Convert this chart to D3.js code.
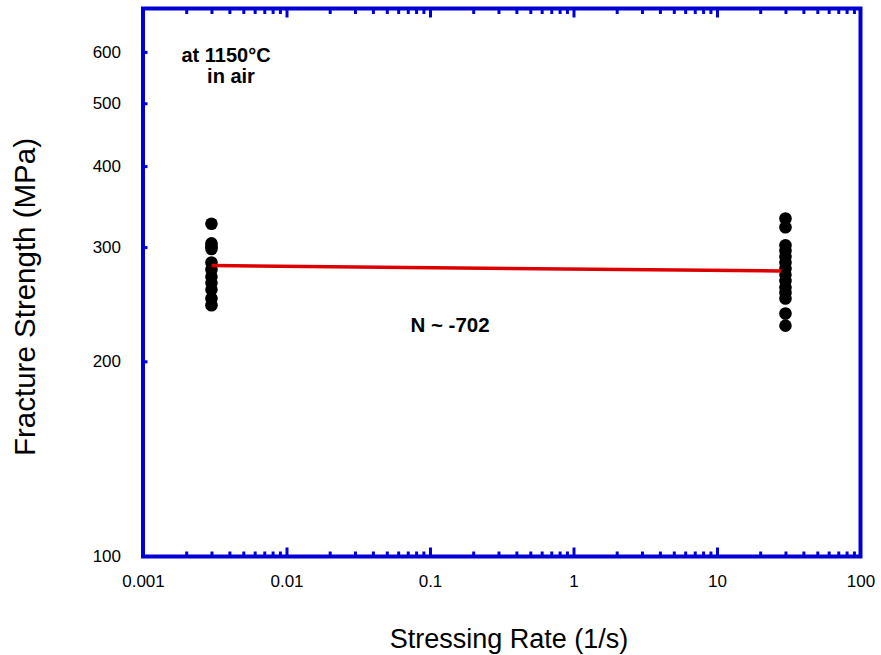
<!DOCTYPE html>
<html>
<head>
<meta charset="utf-8">
<script src="https://cdn.jsdelivr.net/npm/d3@7"></script>
<style>
  body { margin: 0; background: #fff; }
  text { font-family: "Liberation Sans", Arial, sans-serif; fill: #000; }
</style>
</head>
<body>
<div id="chart"></div>
<script>
// data
const xTickValues = [0.001, 0.01, 0.1, 1, 10, 100];
const yTickValues = [100, 200, 300, 400, 500, 600];
const slowRate = 0.003;
const slowStrength = [326, 304, 301, 298, 284, 277, 270, 264, 258, 250, 244];
const fastRate = 30;
const fastStrength = [332, 322, 302, 296, 290, 284, 278, 272, 266, 260, 255, 250, 237, 227];
const fitRate = [0.003, 28];
const fitStrength = [281, 275.6];

const w = 881;
const h = 655;
const blue = '#0000d6';

const xScale = d3.scaleLog()
  .domain([0.001, 100])
  .range([143, 860.5]);

const yScale = d3.scaleLog()
  .domain([100, 700])
  .range([556.5, 8.5]);

const svg = d3.select('#chart')
  .append('svg')
  .attr('width', w)
  .attr('height', h);

// minor ticks 2..9 in every decade
const minorTicks = [];
for (let d = 0.001; d < 100; d *= 10) {
  for (let k = 2; k <= 9; k++) minorTicks.push(+(d * k).toPrecision(3));
}
const majorTicks = xTickValues.slice(1, -1);

function styleTicks(g) {
  g.select('.domain').remove();
  g.selectAll('.tick line')
    .attr('stroke', blue)
    .attr('stroke-width', 3);
}

// bottom ticks, pointing inside
svg.append('g')
  .attr('transform', 'translate(0,' + yScale(100) + ')')
  .call(d3.axisTop(xScale).tickValues(minorTicks).tickSize(5).tickFormat(''))
  .call(styleTicks);
svg.append('g')
  .attr('transform', 'translate(0,' + yScale(100) + ')')
  .call(d3.axisTop(xScale).tickValues(majorTicks).tickSize(9).tickFormat(''))
  .call(styleTicks);

// top ticks, pointing inside
svg.append('g')
  .attr('transform', 'translate(0,' + yScale(700) + ')')
  .call(d3.axisBottom(xScale).tickValues(minorTicks).tickSize(5.5).tickFormat(''))
  .call(styleTicks);
svg.append('g')
  .attr('transform', 'translate(0,' + yScale(700) + ')')
  .call(d3.axisBottom(xScale).tickValues(majorTicks).tickSize(9).tickFormat(''))
  .call(styleTicks);

// left ticks
svg.append('g')
  .attr('transform', 'translate(' + xScale(0.001) + ',0)')
  .call(d3.axisRight(yScale).tickValues(yTickValues.slice(1)).tickSize(4.5).tickFormat(''))
  .call(styleTicks);

// x labels
const xLabels = svg.append('g')
  .attr('transform', 'translate(0,' + yScale(100) + ')')
  .call(d3.axisBottom(xScale).tickValues(xTickValues).tickSize(0).tickPadding(0)
    .tickFormat(function(d) { return String(d); }));
xLabels.select('.domain').remove();
xLabels.selectAll('text')
  .attr('y', 30)
  .attr('dy', 0)
  .attr('font-size', '17px')
  .attr('font-family', '"Liberation Sans", Arial, sans-serif');

// y labels
const yLabels = svg.append('g')
  .attr('transform', 'translate(' + xScale(0.001) + ',0)')
  .call(d3.axisLeft(yScale).tickValues(yTickValues).tickSize(0).tickPadding(22)
    .tickFormat(function(d) { return String(d); }));
yLabels.select('.domain').remove();
yLabels.selectAll('text')
  .attr('font-size', '17px')
  .attr('font-family', '"Liberation Sans", Arial, sans-serif');

// frame
svg.append('rect')
  .attr('x', xScale(0.001))
  .attr('y', yScale(700))
  .attr('width', xScale(100) - xScale(0.001))
  .attr('height', yScale(100) - yScale(700))
  .attr('fill', 'none')
  .attr('stroke', blue)
  .attr('stroke-width', 4);

// data points
svg.selectAll('circle.slow')
  .data(slowStrength)
  .enter()
  .append('circle')
  .attr('class', 'slow')
  .attr('cx', xScale(slowRate))
  .attr('cy', function(d) { return yScale(d); })
  .attr('r', 6.3)
  .attr('fill', '#000');

svg.selectAll('circle.fast')
  .data(fastStrength)
  .enter()
  .append('circle')
  .attr('class', 'fast')
  .attr('cx', xScale(fastRate))
  .attr('cy', function(d) { return yScale(d); })
  .attr('r', 6.3)
  .attr('fill', '#000');

// fit line
const line = d3.line()
  .x(function(d) { return xScale(d[0]); })
  .y(function(d) { return yScale(d[1]); });

svg.append('path')
  .datum(d3.zip(fitRate, fitStrength))
  .attr('d', line)
  .attr('fill', 'none')
  .attr('stroke', '#dd0000')
  .attr('stroke-width', 3.5);

// annotations
svg.append('text')
  .attr('x', 226)
  .attr('y', 62)
  .attr('text-anchor', 'middle')
  .attr('font-weight', 'bold')
  .attr('font-size', '20px')
  .text('at 1150°C');

svg.append('text')
  .attr('x', 231)
  .attr('y', 83)
  .attr('text-anchor', 'middle')
  .attr('font-weight', 'bold')
  .attr('font-size', '20px')
  .text('in air');

svg.append('text')
  .attr('x', 450)
  .attr('y', 331.5)
  .attr('text-anchor', 'middle')
  .attr('font-weight', 'bold')
  .attr('font-size', '20.5px')
  .text('N ~ -702');

// axis titles
svg.append('text')
  .attr('x', 509)
  .attr('y', 648)
  .attr('text-anchor', 'middle')
  .attr('font-size', '27px')
  .text('Stressing Rate (1/s)');

svg.append('text')
  .attr('transform', 'translate(35,297) rotate(-90)')
  .attr('text-anchor', 'middle')
  .attr('font-size', '29.5px')
  .text('Fracture Strength (MPa)');
</script>
</body>
</html>
